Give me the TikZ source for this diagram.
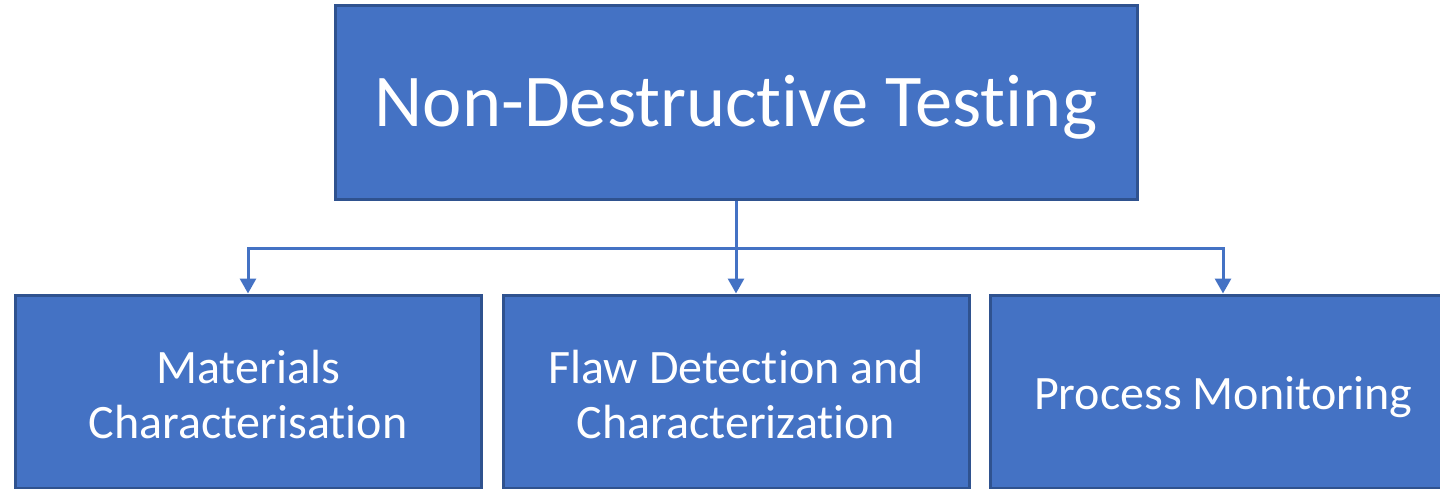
\documentclass[tikz,border=0pt]{standalone}
\usepackage{fontspec}
\setmainfont{Carlito}[Ligatures=NoCommon]
\usetikzlibrary{arrows.meta}
\definecolor{boxfill}{HTML}{4472C4}
\definecolor{boxline}{HTML}{2F528F}
\begin{document}
\begin{tikzpicture}[x=1pt,y=-1pt,
  box/.style={draw=boxline,fill=boxfill,line width=3pt,inner sep=0pt},
  lbl/.style={text=white,align=center,inner sep=0pt},
  conn/.style={draw=boxfill,line width=3pt},
  arr/.style={conn,-{Triangle[width=16pt,length=15pt]}}]
\useasboundingbox (0,0) rectangle (1440,489);
\clip (0,0) rectangle (1440,489);
\node[box,minimum width=802pt,minimum height=194pt] (top) at (736,103) {};
\node[box,minimum width=466pt,minimum height=193pt] (b1) at (248,391.5) {};
\node[box,minimum width=466pt,minimum height=193pt] (b2) at (736,391.5) {};
\node[box,minimum width=466pt,minimum height=193pt] (b3) at (1223,391.5) {};
\node[lbl,font=\fontsize{74.5}{80}\selectfont] (tt) at ([yshift=-4pt]top.center) {Non-Destructive Testing};
\node[lbl,font=\fontsize{48}{55}\selectfont] (t1) at ([yshift=-3pt]b1.center) {Materials\\Characterisation};
\node[lbl,font=\fontsize{48}{55}\selectfont] (t2) at ([yshift=-3pt]b2.center) {Flaw Detection and\\Characterization};
\node[lbl,font=\fontsize{48}{55}\selectfont] (t3) at ([yshift=-6pt]b3.center) {Process Monitoring};
\coordinate (bus) at (736,248);
\draw[conn] (top.south) -- (bus);
\draw[arr] (bus) -| (b1.north);
\draw[arr] (bus) -- (b2.north);
\draw[arr] (bus) -| (b3.north);
\end{tikzpicture}
\end{document}
